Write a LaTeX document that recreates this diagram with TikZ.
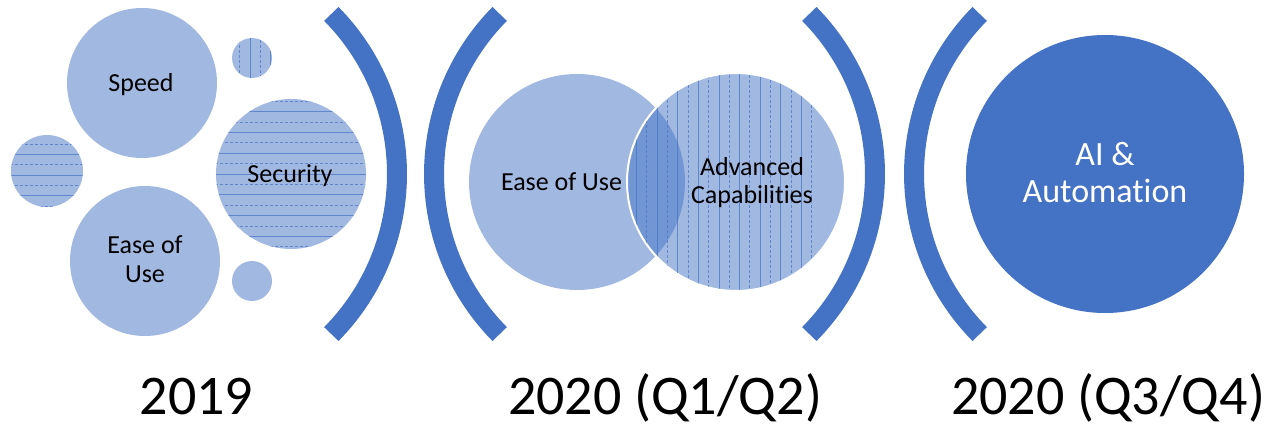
\documentclass[tikz,border=0pt]{standalone}
\usepackage{fontspec}
\setmainfont{Carlito}[Ligatures={NoCommon}]
\definecolor{accent}{HTML}{4472C4}
\begin{document}
\begin{tikzpicture}[x=1pt,y=-1pt,
  bubble/.style={circle, inner sep=0pt, fill=accent, fill opacity=0.5},
  lbl/.style={align=center, inner sep=0pt, text=black, font=\fontsize{26}{29.5}\selectfont},
  bracketarc/.style={draw=accent, line width=20pt},
  hatch/.style={draw=accent, line width=0.8pt, draw opacity=0.7},
  hatchdash/.style={hatch, dash pattern=on 3pt off 2pt},
  year/.style={font=\fontsize{56}{60}\selectfont, anchor=base, inner sep=0pt},
]
\useasboundingbox (0,0) rectangle (1268,428);

% ---------- 2019 group ----------
\node[bubble, minimum size=150pt] (speed) at (142,83) {};
\node[bubble, minimum size=40pt] (tiny1) at (252,58) {};
\node[bubble, minimum size=72pt] (side) at (47,171) {};
\node[bubble, minimum size=150pt] (secur) at (291,174) {};
\node[bubble, minimum size=150pt] (ease1) at (145,261) {};
\node[bubble, minimum size=40pt] (tiny2) at (252,281) {};

% hatching
\begin{scope}
  \clip (secur.center) circle[radius=75];
  \foreach \k in {-8,-6,...,8} \draw[hatch] (200,174+\k*10.4) -- (380,174+\k*10.4);
  \foreach \k in {-7,-5,...,7} \draw[hatchdash] (200,174+\k*10.4) -- (380,174+\k*10.4);
\end{scope}
\begin{scope}
  \clip (side.center) circle[radius=36];
  \foreach \k in {-4,-2,...,4} \draw[hatch] (0,175+\k*10.3) -- (100,175+\k*10.3);
  \foreach \k in {-3,-1,...,3} \draw[hatchdash] (0,175+\k*10.3) -- (100,175+\k*10.3);
\end{scope}
\begin{scope}
  \clip (tiny1.center) circle[radius=20];
  \foreach \k in {-2,0,2} \draw[hatch] (250+\k*10.3,30) -- (250+\k*10.3,90);
  \foreach \k in {-1,1} \draw[hatchdash] (250+\k*10.3,30) -- (250+\k*10.3,90);
\end{scope}

\node[lbl] (tspeed) at (141,85) {Speed};
\node[lbl] (tsecur) at (290,175.5) {Security};
\node[lbl] (tease1) at (145,259) {Ease of\\Use};

% brackets
\draw[bracketarc] (169,174) ++(-44.6:228) arc[start angle=-44.6, end angle=44.6, radius=228];
\draw[bracketarc] (662,174) ++(135.4:228) arc[start angle=135.4, end angle=224.6, radius=228];
\draw[bracketarc] (647,174) ++(-44.6:228) arc[start angle=-44.6, end angle=44.6, radius=228];
\draw[bracketarc] (1142,174) ++(135.4:228) arc[start angle=135.4, end angle=224.6, radius=228];

% ---------- 2020 Q1/Q2 ----------
\node[bubble, minimum size=216pt] (ease2) at (577,182) {};
\node[bubble, minimum size=218pt, draw=white, line width=2pt] (adv) at (736,182) {};
\begin{scope}
  \clip (adv.center) circle[radius=108];
  \foreach \k in {-8,-6,...,10} \draw[hatch] (698.3+\k*10.3,60) -- (698.3+\k*10.3,300);
  \foreach \k in {-7,-5,...,11} \draw[hatchdash] (698.3+\k*10.3,60) -- (698.3+\k*10.3,300);
\end{scope}
\node[lbl] (tease2) at (561.5,182) {Ease of Use};
\node[lbl, font=\fontsize{26}{28}\selectfont] (tadv) at (752,182.5) {Advanced\\Capabilities};

% ---------- 2020 Q3/Q4 ----------
\node[circle, inner sep=0pt, fill=accent, minimum size=278pt] (ai) at (1105,174) {};
\node[align=center, inner sep=0pt, text=white, font=\fontsize{34}{37}\selectfont] (tai) at (1105,172.5) {AI \&\\Automation};

% years
\node[year] (y1) at (196.5,414) {2019};
\node[year] (y2) at (665,414) {2020 (Q1/Q2)};
\node[year] (y3) at (1108,414) {2020 (Q3/Q4)};
\end{tikzpicture}
\end{document}
